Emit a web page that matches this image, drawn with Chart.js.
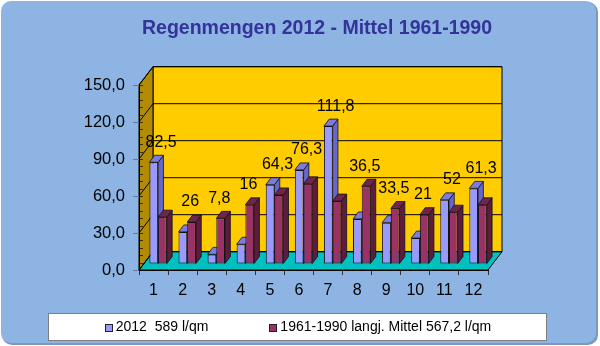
<!DOCTYPE html>
<html>
<head>
<meta charset="utf-8">
<script src="https://cdn.jsdelivr.net/npm/chart.js@4/dist/chart.umd.min.js"></script>
<style>
html, body { margin: 0; padding: 0; background: #fff; }
canvas { display: block; }
</style>
</head>
<body>
<canvas id="rainChart" width="600" height="346"></canvas>
<script>
/* global Chart */

const months = ['1', '2', '3', '4', '5', '6', '7', '8', '9', '10', '11', '12'];
const rain2012 = [82.5, 26, 7.8, 16, 64.3, 76.3, 111.8, 36.5, 33.5, 21, 52, 61.3];
const rainMean = [38, 34, 37, 48, 56, 65, 51, 63, 45, 40, 42, 48];
const yTicks = [0, 30, 60, 90, 120, 150];
const seriesNames = ['2012  589 l/qm', '1961-1990 langj. Mittel 567,2 l/qm'];

const FONT = '"Liberation Sans", Arial, sans-serif';

// 3D look: depth of the plot box, where the bar row sits, depth of one column
const WALL_DX = 14, WALL_DY = 18.3;
const ROW_DX = 4.6, ROW_DY = 6;
const COL_DX = 5.3, COL_DY = 7;

const faces = [
    { front: '#9999ff', side: '#6666cc', top: '#7b7be0' },
    { front: '#993366', side: '#5c1c3d', top: '#70254c' }
];

const fmtTick = v => v.toFixed(1).replace('.', ',');
const fmtLabel = v => String(v).replace('.', ',');

function poly(ctx, pts, fill, stroke) {
    ctx.beginPath();
    ctx.moveTo(pts[0][0], pts[0][1]);
    for (let i = 1; i < pts.length; i++) ctx.lineTo(pts[i][0], pts[i][1]);
    ctx.closePath();
    if (fill) { ctx.fillStyle = fill; ctx.fill(); }
    if (stroke) { ctx.strokeStyle = stroke; ctx.stroke(); }
}

function roundRect(ctx, x, y, w, h, r) {
    ctx.beginPath();
    ctx.moveTo(x + r, y);
    ctx.arcTo(x + w, y, x + w, y + h, r);
    ctx.arcTo(x + w, y + h, x, y + h, r);
    ctx.arcTo(x, y + h, x, y, r);
    ctx.arcTo(x, y, x + w, y, r);
    ctx.closePath();
}

// frame, walls and floor behind everything
const plotBox = {
    id: 'plotBox',
    beforeDraw(chart) {
        const { ctx, chartArea: a, scales: { y } } = chart;
        const top = y.getPixelForValue(150);
        const bottom = y.getPixelForValue(0);

        ctx.save();
        ctx.fillStyle = '#7d98bf';
        roundRect(ctx, 2, 2, 596, 343, 10);
        ctx.fill();
        ctx.fillStyle = '#8db4e2';
        roundRect(ctx, 1, 1, 595, 342, 10);
        ctx.fill();

        ctx.lineWidth = 1;
        // back wall
        poly(ctx, [
            [a.left + WALL_DX, top - WALL_DY], [a.right + WALL_DX, top - WALL_DY],
            [a.right + WALL_DX, bottom - WALL_DY], [a.left + WALL_DX, bottom - WALL_DY]
        ], '#ffcc00', '#000');
        // left wall
        poly(ctx, [
            [a.left, top], [a.left + WALL_DX, top - WALL_DY],
            [a.left + WALL_DX, bottom - WALL_DY], [a.left, bottom]
        ], '#b38b00', '#000');
        // floor
        poly(ctx, [
            [a.left, bottom], [a.right, bottom],
            [a.right + WALL_DX, bottom - WALL_DY], [a.left + WALL_DX, bottom - WALL_DY]
        ], '#00c0c0', '#000');

        // grid lines on the walls
        ctx.strokeStyle = '#000';
        yTicks.forEach(v => {
            const py = y.getPixelForValue(v);
            ctx.beginPath();
            ctx.moveTo(a.left, py);
            ctx.lineTo(a.left + WALL_DX, py - WALL_DY);
            ctx.lineTo(a.right + WALL_DX, py - WALL_DY);
            ctx.stroke();
        });

        // small marks along the front edge of the left wall
        ctx.strokeStyle = '#3a2c00';
        for (let v = 0; v <= 150; v += 6) {
            const py = Math.round(y.getPixelForValue(v)) + 0.5;
            ctx.beginPath();
            ctx.moveTo(a.left, py);
            ctx.lineTo(a.left + 4, py);
            ctx.stroke();
        }
        ctx.restore();
    }
};

// side and top faces of the columns, front faces come from Chart.js
const columns3d = {
    id: 'columns3d',
    beforeDatasetsDraw(chart) {
        const { ctx } = chart;
        ctx.save();
        ctx.translate(ROW_DX, -ROW_DY);
        ctx.lineWidth = 0.8;
        chart.data.labels.forEach((_, i) => {
            chart.data.datasets.forEach((ds, d) => {
                const bar = chart.getDatasetMeta(d).data[i];
                const { x, y, base, width } = bar.getProps(['x', 'y', 'base', 'width'], true);
                const l = x - width / 2;
                const r = x + width / 2;
                poly(ctx, [[r, y], [r + COL_DX, y - COL_DY], [r + COL_DX, base - COL_DY], [r, base]], faces[d].side, '#111');
                poly(ctx, [[l, y], [l + COL_DX, y - COL_DY], [r + COL_DX, y - COL_DY], [r, y]], faces[d].top, '#111');
            });
        });
    },
    afterDatasetsDraw(chart) {
        const { ctx, scales: { x, y } } = chart;
        ctx.restore();

        // value labels of 2012 above the taller column
        ctx.save();
        ctx.font = '16px ' + FONT;
        ctx.fillStyle = '#000';
        ctx.textAlign = 'center';
        ctx.textBaseline = 'middle';
        rain2012.forEach((v, i) => {
            const high = Math.max(v, rainMean[i]);
            const px = x.getPixelForValue(i) + ROW_DX + 3;
            const py = y.getPixelForValue(high) - ROW_DY - 20;
            ctx.fillText(fmtLabel(v), px, py);
        });
        ctx.restore();
    }
};

// boxed legend below the axis
const legendBox = {
    id: 'legendBox',
    afterDraw(chart) {
        const { ctx } = chart;
        const bx = 48.5, by = 313.5, bw = 498, bh = 27;
        ctx.save();
        ctx.fillStyle = '#fff';
        ctx.fillRect(bx, by, bw, bh);
        ctx.strokeStyle = '#7f7f7f';
        ctx.lineWidth = 1;
        ctx.strokeRect(bx, by, bw, bh);

        ctx.font = '14px ' + FONT;
        const sq = 7, gap = 3, itemGap = 62;
        const widths = seriesNames.map(t => ctx.measureText(t).width);
        const total = widths.reduce((s, w) => s + sq + gap + w, 0) + itemGap;
        let cx = bx + bw / 2 - total / 2;
        const cy = by + bh / 2;
        ctx.textBaseline = 'middle';
        ctx.textAlign = 'left';
        seriesNames.forEach((t, i) => {
            ctx.fillStyle = faces[i].front;
            ctx.fillRect(Math.round(cx) + 0.5, Math.round(cy - sq / 2) + 0.5, sq, sq);
            ctx.strokeStyle = '#222';
            ctx.strokeRect(Math.round(cx) + 0.5, Math.round(cy - sq / 2) + 0.5, sq, sq);
            ctx.fillStyle = '#000';
            ctx.fillText(t, cx + sq + gap + 1, cy);
            cx += sq + gap + widths[i] + itemGap;
        });
        ctx.restore();
    }
};

Chart.defaults.font.family = FONT;
Chart.defaults.color = '#000';

new Chart(document.getElementById('rainChart'), {
    type: 'bar',
    data: {
        labels: months,
        datasets: [
            {
                label: seriesNames[0],
                data: rain2012,
                yAxisID: 'y',
                backgroundColor: faces[0].front,
                borderColor: '#111',
                borderWidth: 1,
                borderSkipped: false,
                clip: false
            },
            {
                label: seriesNames[1],
                data: rainMean,
                yAxisID: 'y',
                backgroundColor: faces[1].front,
                borderColor: '#111',
                borderWidth: 1,
                borderSkipped: false,
                clip: false
            }
        ]
    },
    options: {
        responsive: false,
        animation: false,
        devicePixelRatio: 1,
        categoryPercentage: 0.6,
        barPercentage: 1,
        layout: { padding: { left: 36, right: 2, top: 0, bottom: 6 } },
        plugins: {
            legend: { display: false },
            tooltip: { enabled: false },
            title: {
                display: true,
                text: 'Regenmengen 2012 - Mittel 1961-1990',
                color: '#333399',
                font: { size: 19.5, weight: 'bold' },
                padding: { top: 16.5, bottom: 45.1 }
            }
        },
        scales: {
            x: {
                grid: { drawOnChartArea: false, tickLength: 5, color: '#333' },
                border: { color: '#000' },
                ticks: { font: { size: 16 }, padding: 6, color: '#000' },
                afterFit: s => { s.height = 70; }
            },
            y: {
                min: 0,
                max: 150,
                grid: { drawOnChartArea: false, tickLength: 6, color: '#6b7a99' },
                border: { color: '#000' },
                ticks: {
                    stepSize: 30,
                    padding: 8,
                    font: { size: 16.5 },
                    color: '#000',
                    callback: v => fmtTick(v)
                },
                afterFit: s => { s.width = 103; }
            },
            yR: {
                position: 'right',
                grid: { display: false },
                border: { display: false },
                ticks: { display: false },
                afterFit: s => { s.width = 110; }
            }
        }
    },
    plugins: [plotBox, columns3d, legendBox]
});
</script>
</body>
</html>
